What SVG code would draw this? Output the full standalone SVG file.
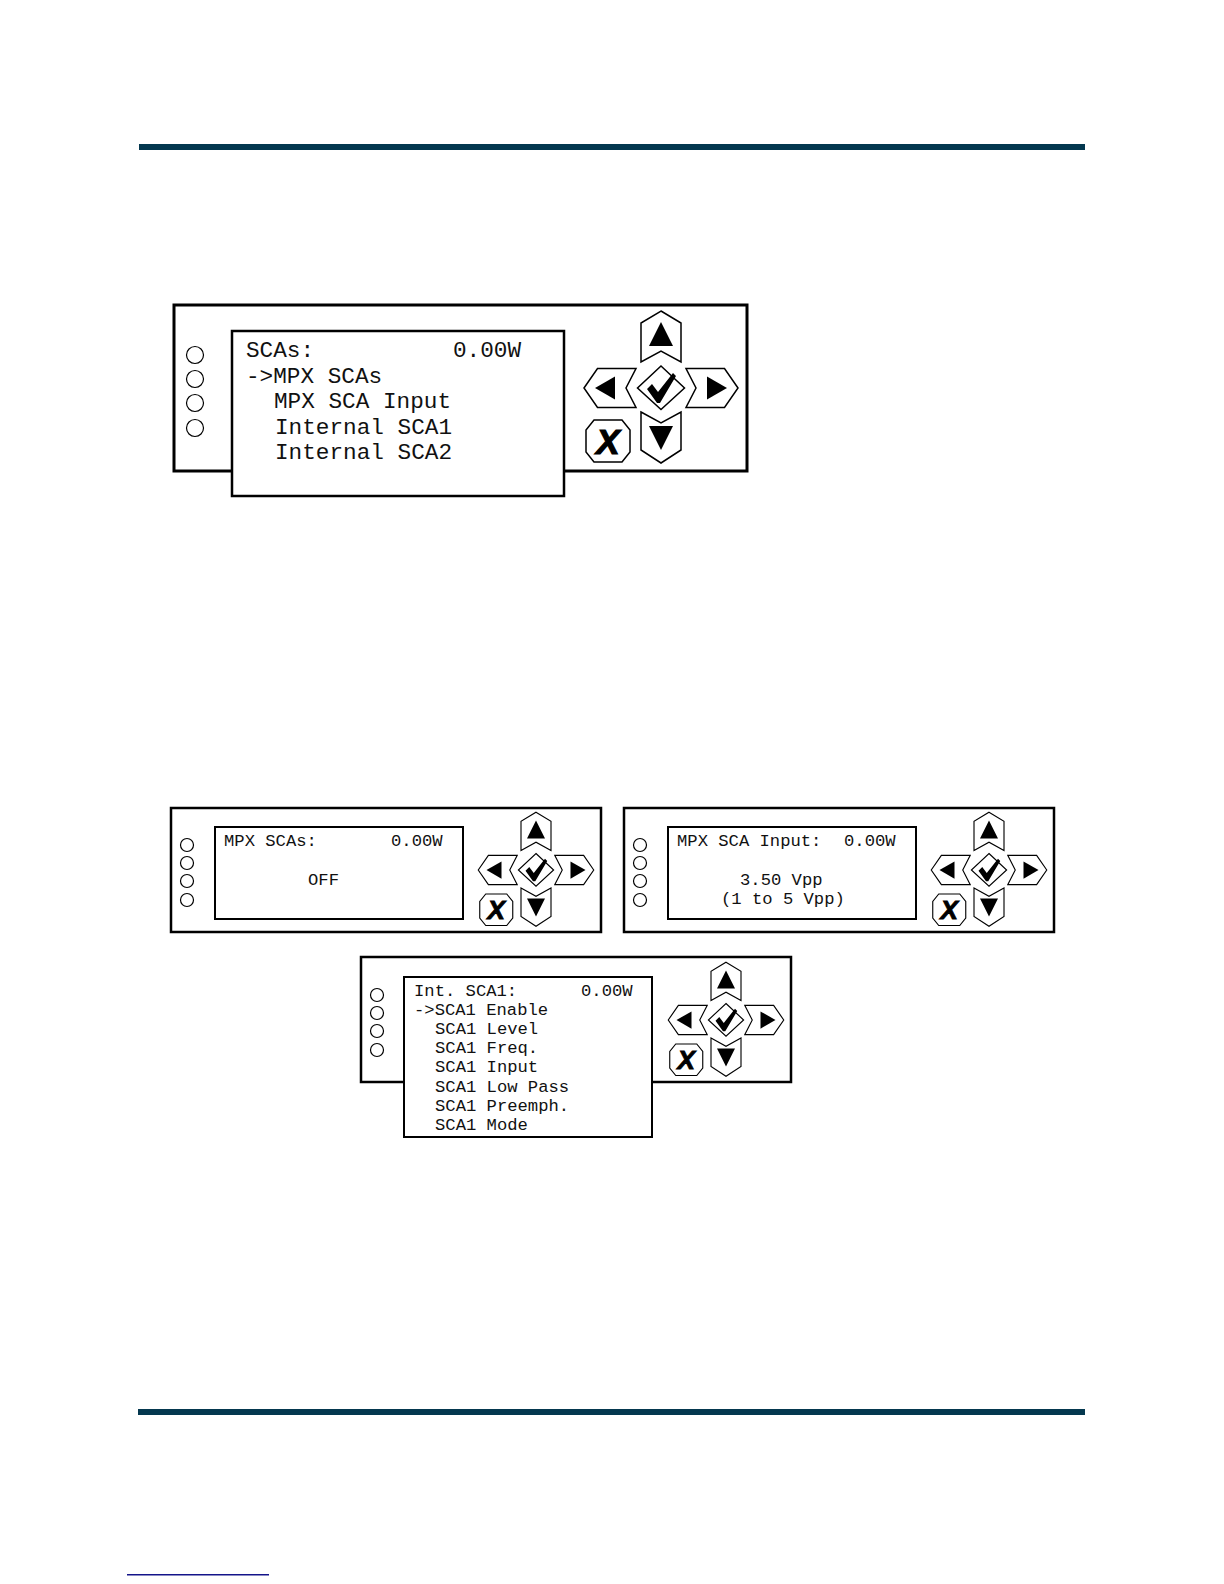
<svg xmlns="http://www.w3.org/2000/svg" xmlns:xlink="http://www.w3.org/1999/xlink" width="1224" height="1584" viewBox="0 0 1224 1584">
<style>
.bar{fill:#04384f}
.frame{fill:#fff;stroke:#000;stroke-width:3}
.screen{fill:#fff;stroke:#000;stroke-width:2.5}
.led{fill:#fff;stroke:#000;stroke-width:1.2}
.btn{fill:#fff;stroke:#000;stroke-width:1.5;stroke-linejoin:miter}
.ico{fill:#000}
.lcd1{font-family:"Liberation Mono","DejaVu Sans Mono",monospace;font-size:22.7px;fill:#111;white-space:pre}
.lcd2{font-family:"Liberation Mono","DejaVu Sans Mono",monospace;font-size:17.2px;fill:#111;white-space:pre}
.xk{font-family:"Liberation Sans",Arial,sans-serif;font-weight:bold;font-style:italic;font-size:35px;fill:#000;stroke:#000;stroke-width:1.2}
</style>
<defs>
<g id="keypad">
<polygon class="btn" points="0,-77 20,-65 20,-26 0,-37 -20,-26 -20,-65"/>
<polygon class="ico" points="0,-66 -12,-42 12,-42"/>
<polygon class="btn" points="-77,0 -63.5,-19.5 -25,-19.5 -35,0 -25,19.5 -63.5,19.5"/>
<polygon class="ico" points="-66,0 -46,-11.5 -46,11.5"/>
<polygon class="btn" points="77,0 63.5,-19.5 25,-19.5 35,0 25,19.5 63.5,19.5"/>
<polygon class="ico" points="66,0 46,-11.5 46,11.5"/>
<polygon class="btn" points="0,-22 23.5,0 0,21.5 -23.5,0"/>
<polygon class="ico" points="-14,1 -9,-4 -3,4 12,-15 15,-12 -1,15 -4,15"/>
<polygon class="btn" points="-20,24 0,35 20,24 20,62 0,75 -20,62"/>
<polygon class="ico" points="-12,38 12,38 0,62"/>
<polygon class="btn" points="-67,32 -39,32 -31,42 -31,64 -39,74 -67,74 -75,64 -75,42"/>
<text class="xk" x="-53" y="65.5" text-anchor="middle">X</text>
</g>
</defs>
<rect width="1224" height="1584" fill="#fff"/>
<rect class="bar" x="139" y="144" width="946" height="6"/>
<rect class="bar" x="138" y="1409" width="947" height="6"/>
<rect x="127" y="1574" width="142" height="1.5" fill="#14148a"/>
<g id="connectors"/>
<g id="panel-scas">
<rect class="frame" x="174" y="305" width="573" height="166"/>
<circle class="led" cx="195" cy="355" r="8.5"/>
<circle class="led" cx="195" cy="379" r="8.5"/>
<circle class="led" cx="195" cy="403" r="8.5"/>
<circle class="led" cx="195" cy="428" r="8.5"/>
<use xlink:href="#keypad" transform="translate(661,388)"/>
<rect class="screen" x="232" y="331" width="332" height="165"/>
<text class="lcd1" x="246" y="357">SCAs:</text>
<text class="lcd1" x="453" y="357">0.00W</text>
<text class="lcd1" x="246" y="382.5">-&gt;MPX SCAs</text>
<text class="lcd1" x="274" y="408">MPX SCA Input</text>
<text class="lcd1" x="275" y="433.5">Internal SCA1</text>
<text class="lcd1" x="275" y="459">Internal SCA2</text>
</g>
<g id="panel-mpx-scas">
<rect class="frame" x="171" y="808" width="430" height="124" style="stroke-width:2.5"/>
<circle class="led" cx="187" cy="845" r="6.5"/>
<circle class="led" cx="187" cy="863" r="6.5"/>
<circle class="led" cx="187" cy="881" r="6.5"/>
<circle class="led" cx="187" cy="900" r="6.5"/>
<use xlink:href="#keypad" transform="translate(536,870) scale(0.75)"/>
<rect class="screen" x="215" y="827" width="248" height="92" style="stroke-width:2"/>
<text class="lcd2" x="224" y="846">MPX SCAs:</text>
<text class="lcd2" x="391" y="846">0.00W</text>
<text class="lcd2" x="308" y="885">OFF</text>
</g>
<g id="panel-mpx-sca-input">
<rect class="frame" x="624" y="808" width="430" height="124" style="stroke-width:2.5"/>
<circle class="led" cx="640" cy="845" r="6.5"/>
<circle class="led" cx="640" cy="863" r="6.5"/>
<circle class="led" cx="640" cy="881" r="6.5"/>
<circle class="led" cx="640" cy="900" r="6.5"/>
<use xlink:href="#keypad" transform="translate(989,870) scale(0.75)"/>
<rect class="screen" x="668" y="827" width="248" height="92" style="stroke-width:2"/>
<text class="lcd2" x="677" y="846">MPX SCA Input:</text>
<text class="lcd2" x="844" y="846">0.00W</text>
<text class="lcd2" x="740" y="885">3.50 Vpp</text>
<text class="lcd2" x="721" y="904">(1 to 5 Vpp)</text>
</g>
<g id="panel-int-sca1">
<rect class="frame" x="361" y="957" width="430" height="125" style="stroke-width:2.5"/>
<circle class="led" cx="377" cy="995" r="6.5"/>
<circle class="led" cx="377" cy="1013" r="6.5"/>
<circle class="led" cx="377" cy="1031" r="6.5"/>
<circle class="led" cx="377" cy="1050" r="6.5"/>
<use xlink:href="#keypad" transform="translate(726,1020) scale(0.75)"/>
<rect class="screen" x="404" y="977" width="248" height="160" style="stroke-width:2"/>
<text class="lcd2" x="414" y="996">Int. SCA1:</text>
<text class="lcd2" x="581" y="996">0.00W</text>
<text class="lcd2" x="414" y="1015">-&gt;SCA1 Enable</text>
<text class="lcd2" x="435" y="1034">SCA1 Level</text>
<text class="lcd2" x="435" y="1053">SCA1 Freq.</text>
<text class="lcd2" x="435" y="1072">SCA1 Input</text>
<text class="lcd2" x="435" y="1092">SCA1 Low Pass</text>
<text class="lcd2" x="435" y="1111">SCA1 Preemph.</text>
<text class="lcd2" x="435" y="1130">SCA1 Mode</text>
</g>
</svg>
